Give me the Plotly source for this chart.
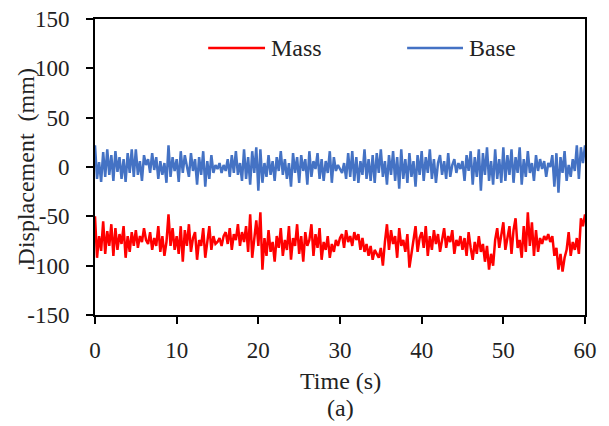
import numpy as np
import plotly.graph_objects as go

# Base displacement (mm), sampled every 0.25 s from 0 to 60 s
base = [
    22, -12, 5, -15, 15, -10, 18, -8, 12, -14, 16, -5, 10, -12, 8, -15, 14, -6, 18, -10,
    18, -8, 6, -14, 12, 2, 8, -6, 14, -3, 10, -12, 6, -8, 4, -16, 22, -10, 10, -4,
    8, -15, 16, -6, 12, 2, -10, 14, -4, 8, -18, 10, -8, 16, -20, 6, -12, 12, -6, 2,
    -2, 4, -6, 2, -4, 8, -10, 12, -6, 16, -8, 4, -14, 18, -12, 10, -18, 16, -6, 20,
    -24, 18, -16, 4, -10, 12, -8, 6, -14, 10, -4, 16, -8, 8, -12, 4, -20, 14, -6, 10,
    -16, 12, -4, 8, -18, 16, -10, 6, -2, 14, -12, 8, -14, 6, -6, 16, -16, 10, -4, 2,
    -2, -6, 4, -12, 14, -10, 16, -14, 10, -16, 6, -8, 18, -12, 8, -14, 12, -16, 14, -6,
    18, -10, 6, -18, 12, -8, 16, -14, 10, -22, 18, -12, 8, -16, 14, -10, 6, -20, 12, -8,
    16, -14, 10, -6, 18, -12, 8, -16, 4, 12, -8, 6, -12, 14, -10, 2, 8, -6, 4, -2,
    6, -14, 12, -4, 16, -18, 10, -10, 18, -24, 14, -8, 20, -14, 6, -18, 18, -12, 8, -16,
    20, -14, 12, -8, 18, -16, 10, -6, 20, -18, 8, -10, 16, -6, 4, -14, 12, -4, 8, -2,
    6, -10, 4, 0, 12, -20, 14, -26, 10, -6, 16, -14, 2, -10, 8, -4, 22, -12, 20, 4,
    22,
]

# Mass displacement (mm), sampled every 0.25 s from 0 to 60 s
mass = [
    -50, -92, -70, -85, -55, -88, -65, -80, -58, -90, -62, -84, -68, -78, -60, -92, -70, -86, -66, -80,
    -64, -82, -70, -76, -62, -74, -78, -66, -84, -72, -80, -60, -86, -70, -90, -76, -48, -80, -62, -84,
    -70, -88, -60, -96, -64, -80, -58, -86, -72, -66, -94, -74, -80, -62, -92, -76, -60, -84, -70, -78,
    -76, -72, -80, -70, -66, -78, -62, -84, -68, -74, -58, -80, -66, -76, -60, -86, -48, -92, -70, -54,
    -80, -46, -104, -72, -90, -64, -86, -76, -96, -70, -82, -62, -90, -74, -84, -60, -94, -72, -80, -58,
    -88, -70, -96, -66, -80, -74, -58, -90, -68, -82, -62, -94, -76, -84, -70, -92, -78, -86, -74, -80,
    -72, -68, -82, -64, -76, -70, -80, -66, -74, -68, -84, -72, -86, -78, -90, -80, -94, -84, -88, -92,
    -82, -100, -76, -58, -84, -64, -78, -70, -92, -62, -80, -74, -86, -68, -102, -88, -78, -60, -86, -72,
    -66, -82, -60, -90, -70, -84, -64, -78, -68, -86, -74, -62, -82, -70, -76, -64, -88, -74, -80, -70,
    -84, -72, -90, -66, -82, -94, -76, -88, -70, -86, -78, -96, -80, -104, -88, -100, -74, -62, -82, -68,
    -56, -84, -70, -60, -88, -64, -52, -82, -74, -92, -60, -86, -46, -80, -56, -90, -64, -86, -72, -78,
    -70, -74, -68, -76, -70, -90, -82, -104, -88, -106, -92, -84, -66, -90, -76, -84, -72, -88, -52, -60,
    -48,
]

t_end = 60
x_ticks = [0, 10, 20, 30, 40, 50, 60]
y_ticks = [-150, -100, -50, 0, 50, 100, 150]

t_base = np.linspace(0, t_end, len(base))
t_mass = np.linspace(0, t_end, len(mass))

FONT = '"Liberation Serif", "Times New Roman", "DejaVu Serif", serif'
RED = "#FF0000"
BLUE = "#4472C4"
TXT = "#222222"

fig = go.Figure()
fig.add_trace(go.Scatter(x=t_base, y=base, mode="lines", name="Base",
                         line=dict(color=BLUE, width=2.5), showlegend=False))
fig.add_trace(go.Scatter(x=t_mass, y=mass, mode="lines", name="Mass",
                         line=dict(color=RED, width=2.5), showlegend=False))

axis_common = dict(showline=True, linecolor="black", linewidth=2, mirror=True,
                   ticks="outside", ticklen=7, tickwidth=2, tickcolor="black",
                   showgrid=False, zeroline=False, automargin=False,
                   tickfont=dict(family=FONT, size=23, color=TXT))

fig.update_xaxes(range=[0, 60], tickvals=x_ticks, ticktext=[str(v) for v in x_ticks],
                 ticklabelstandoff=6, **axis_common)
fig.update_yaxes(range=[-150, 150], tickvals=y_ticks, ticktext=[str(v) for v in y_ticks],
                 ticklabelstandoff=12, **axis_common)

# manual legend (long line samples as in the reference)
LEG_Y = 0.902
legend_items = [("Mass", RED, 0.231, 0.347), ("Base", BLUE, 0.637, 0.751)]
for name, col, x0, x1 in legend_items:
    fig.add_shape(type="line", xref="paper", yref="paper", x0=x0, x1=x1, y0=LEG_Y, y1=LEG_Y,
                  line=dict(color=col, width=2.5))
    fig.add_annotation(xref="paper", yref="paper", x=x1 + 0.008, y=LEG_Y, text=name,
                       showarrow=False, xanchor="left", yanchor="middle",
                       font=dict(family=FONT, size=24, color=TXT))

fig.add_annotation(xref="paper", yref="paper", x=-0.14, y=0.5, text="Displacement  (mm)",
                   textangle=-90, showarrow=False, xanchor="center", yanchor="middle",
                   font=dict(family=FONT, size=24, color=TXT))
fig.add_annotation(xref="paper", yref="paper", x=0.5, y=-0.223, text="Time (s)",
                   showarrow=False, xanchor="center", yanchor="middle",
                   font=dict(family=FONT, size=24, color=TXT))
fig.add_annotation(xref="paper", yref="paper", x=0.5, y=-0.314, text="(a)",
                   showarrow=False, xanchor="center", yanchor="middle",
                   font=dict(family=FONT, size=24, color=TXT))

fig.update_layout(width=609, height=426, margin=dict(l=95, r=24, t=19, b=111),
                  plot_bgcolor="white", paper_bgcolor="white")

# remove the browser's default 8px body margin so the figure fills the window
fig.write_html("out.html", config={"displayModeBar": False},
               post_script="document.body.style.margin='0';")
